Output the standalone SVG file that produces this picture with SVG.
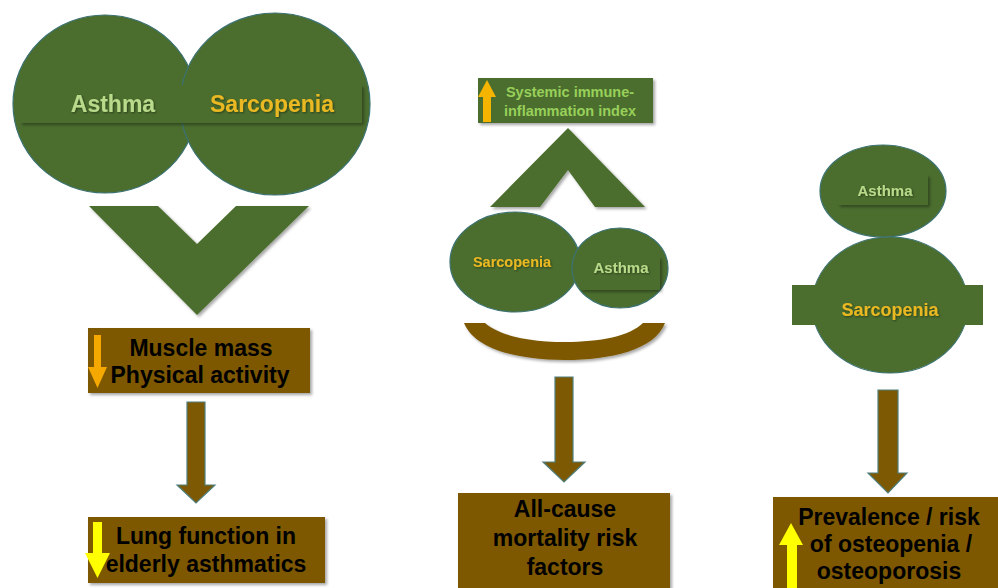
<svg xmlns="http://www.w3.org/2000/svg" width="998" height="588" viewBox="0 0 998 588">
<defs>
<filter id="sh" x="-10%" y="-10%" width="130%" height="140%">
<feDropShadow dx="2" dy="2" stdDeviation="1.5" flood-color="#000" flood-opacity="0.35"/>
</filter>
<filter id="tsh" x="-10%" y="-20%" width="130%" height="150%">
<feDropShadow dx="1" dy="1" stdDeviation="0.8" flood-color="#000" flood-opacity="0.45"/>
</filter>
</defs>
<style>
.g{fill:#4b6e2f;stroke:#3c7272;stroke-width:1.2}
.band{fill:#4b6e2f;filter:url(#sh)}
.box{fill:#7d5903;filter:url(#sh)}
.br{fill:#7d5903;stroke:#4f7f7c;stroke-width:1.2}
.gs{fill:#4b6e2f}
.t{font-family:"Liberation Sans",Arial,sans-serif;font-weight:bold;text-anchor:middle}
.lg{fill:#b8da8a;filter:url(#tsh)}
.gd{fill:#eab820;filter:url(#tsh)}
.bk{fill:#000;font-size:23px}
</style>
<rect width="998" height="588" fill="#fff"/>

<g id="venn1">
<ellipse class="g" cx="105" cy="104" rx="92" ry="89"/>
<ellipse class="g" cx="275" cy="104" rx="95" ry="91"/>
<rect class="band" x="20" y="85" width="342" height="38"/>
<text class="t lg" x="113" y="112" font-size="23">Asthma</text>
<text class="t gd" x="272" y="112" font-size="23">Sarcopenia</text>
</g>

<g id="box-muscle">
<rect class="box" x="88" y="328" width="222" height="65"/>
<text class="t bk" x="201" y="356">Muscle mass</text>
<text class="t bk" x="200" y="383">Physical activity</text>
<polygon fill="#f5a800" points="94,335 101,335 101,367 107,367 97.5,388 88,367 94,367"/>
</g>

<g id="box-lung">
<rect class="box" x="88" y="517" width="237" height="66"/>
<text class="t bk" x="206" y="544">Lung function in</text>
<text class="t bk" x="206" y="572">elderly asthmatics</text>
<polygon fill="#ffff00" points="93,522 102,522 102,553 110,553 97.5,578 85,553 93,553"/>
</g>

<g id="box-sii">
<rect class="gs" x="478" y="78" width="175" height="45" filter="url(#sh)"/>
<text class="t" x="570" y="97" font-size="14.5" fill="#98d05a">Systemic immune-</text>
<text class="t" x="570" y="116" font-size="14.5" fill="#98d05a">inflammation index</text>
<polygon fill="#f5b400" points="487,80 496,97 491,97 491,122 483,122 483,97 478,97"/>
</g>

<g id="venn2">
<ellipse class="g" cx="515" cy="262" rx="65" ry="50"/>
<ellipse class="g" cx="620" cy="268" rx="48" ry="40"/>
<rect class="band" x="580" y="257" width="80" height="33"/>
<text class="t lg" x="621" y="273" font-size="15">Asthma</text>
<text class="t gd" x="512" y="267" font-size="14.5">Sarcopenia</text>
</g>

<g id="box-mortality">
<rect class="box" x="458" y="493" width="212" height="100"/>
<text class="t bk" x="565" y="517" font-size="21.5">All-cause</text>
<text class="t bk" x="565" y="546" font-size="21.5">mortality risk</text>
<text class="t bk" x="565" y="575" font-size="21.5">factors</text>
</g>

<g id="venn3">
<ellipse class="g" cx="883" cy="191" rx="63" ry="46"/>
<rect class="band" x="838" y="175" width="90" height="30"/>
<text class="t lg" x="885" y="196" font-size="15">Asthma</text>
<ellipse class="g" cx="890" cy="305" rx="78" ry="68"/>
<rect class="gs" x="792" y="285" width="191" height="40"/>
<text class="t gd" x="890" y="316" font-size="18">Sarcopenia</text>
</g>

<g id="box-osteo">
<rect class="box" x="773" y="497" width="230" height="96"/>
<text class="t bk" x="889" y="525" font-size="22">Prevalence / risk</text>
<text class="t bk" x="891" y="552" font-size="22">of osteopenia /</text>
<text class="t bk" x="889" y="579" font-size="22">osteoporosis</text>
<polygon fill="#ffff00" points="791,523 803,545 797,545 797,588 787,588 787,545 779,545"/>
</g>

<g id="connectors">
<polygon class="gs" filter="url(#sh)" points="89,206 158,206 197,244 236,206 309,206 197,315"/>
<polygon class="gs" filter="url(#sh)" points="490,207 568,128 645,207 595,207 568,170 540,207"/>
<path fill="#7d5903" filter="url(#sh)" d="M464,323 L485,323 C500,336 530,342 565,342 C600,342 630,336 643,323 L665,323 C655,350 610,360 565,360 C520,360 475,350 464,323 Z"/>
<polygon class="br" points="187,402 205,402 205,485 215,485 196,503 177,485 187,485"/>
<polygon class="br" points="555,377 573,377 573,462 585,462 564,482 543,462 555,462"/>
<polygon class="br" points="878,390 898,390 898,473 907,473 888,493 868,473 878,473"/>
</g>
</svg>
